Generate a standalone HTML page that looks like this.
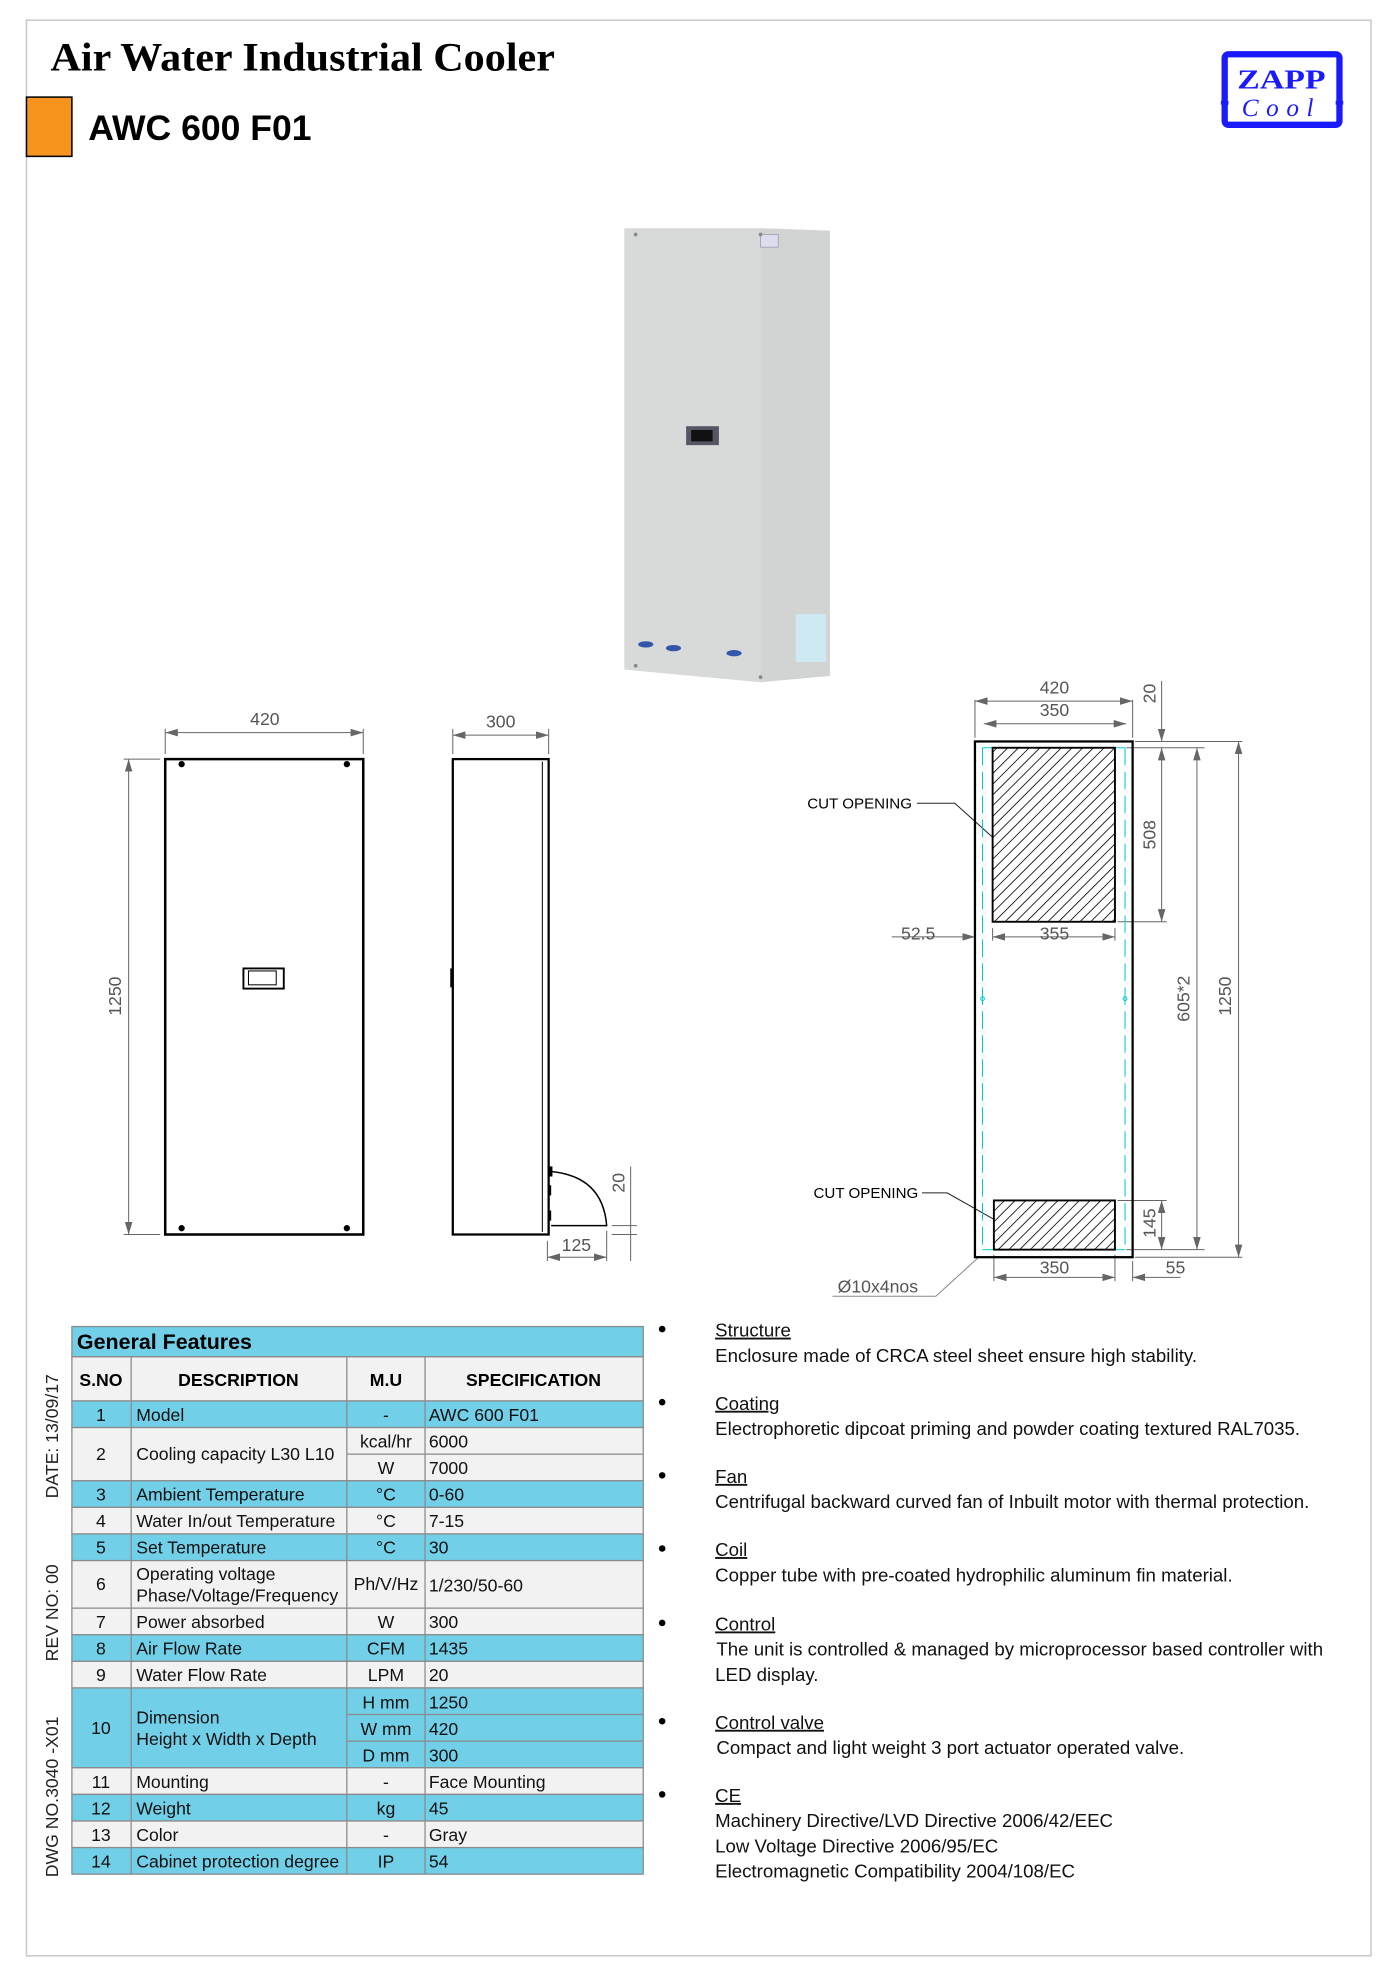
<!DOCTYPE html>
<html><head><meta charset="utf-8"><style>html,body{margin:0;padding:0;background:#fff}svg{display:block}</style></head>
<body>
<svg width="1400" height="1981" viewBox="0 0 1110 1571" preserveAspectRatio="none" xmlns="http://www.w3.org/2000/svg" font-family="Liberation Sans, Arial, sans-serif">
<defs>
<marker id="a" viewBox="0 0 10 6" refX="10" refY="3" markerWidth="10" markerHeight="6" orient="auto-start-reverse" markerUnits="userSpaceOnUse"><path d="M0,0 L10,3 L0,6 z" fill="#666"/></marker>
<pattern id="h" width="6" height="6" patternUnits="userSpaceOnUse" patternTransform="rotate(45)"><line x1="0" y1="0" x2="0" y2="6" stroke="#000" stroke-width="1.3"/></pattern>
</defs>
<rect x="21" y="16" width="1066" height="1535" fill="none" stroke="#c8c8c8" stroke-width="1.2"/>
<text x="40" y="56" font-family="Liberation Serif, serif" font-weight="bold" font-size="32" textLength="400" lengthAdjust="spacingAndGlyphs">Air Water Industrial Cooler</text>
<rect x="21" y="77" width="36" height="47" fill="#f7941d" stroke="#000" stroke-width="1.2"/>
<text x="70" y="111" font-weight="bold" font-size="28" textLength="177" lengthAdjust="spacingAndGlyphs">AWC 600 F01</text>
<!-- logo -->
<rect x="971" y="43" width="91" height="56" rx="3" fill="#fff" stroke="#1a1aff" stroke-width="5"/>
<rect x="968" y="80" width="6" height="3" fill="#1a1aff"/><rect x="1059" y="80" width="6" height="3" fill="#1a1aff"/>
<text x="1016" y="70" text-anchor="middle" font-family="Liberation Serif, serif" font-weight="bold" font-size="22" fill="#1a1aff" textLength="70" lengthAdjust="spacingAndGlyphs">ZAPP</text>
<text x="1016" y="92" text-anchor="middle" font-family="Liberation Serif, serif" font-style="italic" font-size="20" fill="#1a1aff" letter-spacing="6">Cool</text>
<!-- photo -->
<polygon points="495,181 603,181 658,183 658,536 603,541 495,531" fill="#d8dada"/>
<polygon points="603,181 658,183 658,536 603,541" fill="#d2d4d4"/>
<rect x="603" y="186" width="14" height="10" fill="#dde" stroke="#99a" stroke-width="0.6"/>
<rect x="544" y="338" width="26" height="15" fill="#556" /><rect x="548" y="341" width="17" height="9" fill="#111"/>
<rect x="631" y="487" width="24" height="38" fill="#cfe9f3"/>
<ellipse cx="512" cy="511" rx="6" ry="2.5" fill="#3355aa"/><ellipse cx="534" cy="514" rx="6" ry="2.5" fill="#3355aa"/><ellipse cx="582" cy="518" rx="6" ry="2.5" fill="#3355aa"/>
<g fill="#888"><circle cx="504" cy="186" r="1.5"/><circle cx="603" cy="186" r="1.5"/><circle cx="504" cy="528" r="1.5"/><circle cx="603" cy="537" r="1.5"/></g>
<!-- front view -->
<g stroke="#666" stroke-width="0.8" fill="none">
<line x1="131" y1="578" x2="131" y2="598"/><line x1="288" y1="578" x2="288" y2="598"/>
<line x1="131" y1="581" x2="288" y2="581" marker-start="url(#a)" marker-end="url(#a)"/>
<line x1="98" y1="602" x2="127" y2="602"/><line x1="98" y1="979" x2="127" y2="979"/>
<line x1="102" y1="602" x2="102" y2="979" marker-start="url(#a)" marker-end="url(#a)"/>
<line x1="359" y1="578" x2="359" y2="598"/><line x1="435" y1="578" x2="435" y2="598"/>
<line x1="359" y1="583" x2="435" y2="583" marker-start="url(#a)" marker-end="url(#a)"/>
<line x1="434" y1="984" x2="434" y2="1000"/><line x1="481" y1="976" x2="481" y2="1000"/>
<line x1="434" y1="997" x2="481" y2="997" marker-start="url(#a)" marker-end="url(#a)"/>
<line x1="500" y1="925" x2="500" y2="1000"/><line x1="485" y1="972" x2="505" y2="972"/><line x1="485" y1="979" x2="505" y2="979"/>
</g>
<g fill="#555" font-size="14"><text x="210" y="575" text-anchor="middle">420</text><text x="397" y="577" text-anchor="middle">300</text><text x="457" y="992" text-anchor="middle">125</text>
<text transform="translate(96,790) rotate(-90)" text-anchor="middle">1250</text><text transform="translate(495,938) rotate(-90)" text-anchor="middle">20</text></g>
<rect x="131" y="602" width="157" height="377" fill="none" stroke="#000" stroke-width="2"/>
<g fill="#000"><circle cx="144" cy="606" r="2.5"/><circle cx="275" cy="606" r="2.5"/><circle cx="144" cy="974" r="2.5"/><circle cx="275" cy="974" r="2.5"/></g>
<rect x="193" y="768" width="32" height="16" fill="none" stroke="#000" stroke-width="1.5"/><rect x="197" y="770" width="22" height="11" fill="none" stroke="#000" stroke-width="0.8"/>
<rect x="359" y="602" width="76" height="377" fill="none" stroke="#000" stroke-width="1.8"/>
<line x1="430" y1="604" x2="430" y2="977" stroke="#000" stroke-width="0.8"/>
<rect x="357" y="768" width="2" height="15" fill="#000"/>
<path d="M437,929 Q478,933 481,972 L437,972" fill="none" stroke="#000" stroke-width="1.2"/>
<rect x="435" y="925" width="3" height="8" fill="#000"/><rect x="435" y="940" width="2" height="8" fill="#000"/><rect x="435" y="960" width="2" height="8" fill="#000"/>
<!-- right view -->
<g stroke="#666" stroke-width="0.8" fill="none">
<line x1="773" y1="555" x2="773" y2="585"/><line x1="898" y1="555" x2="898" y2="585"/>
<line x1="773" y1="556" x2="898" y2="556" marker-start="url(#a)" marker-end="url(#a)"/>
<line x1="780" y1="574" x2="893" y2="574" marker-start="url(#a)" marker-end="url(#a)"/>
<line x1="921" y1="540" x2="921" y2="588" marker-end="url(#a)"/>
<line x1="921" y1="593" x2="921" y2="731" marker-start="url(#a)" marker-end="url(#a)"/>
<line x1="900" y1="588" x2="985" y2="588"/><line x1="893" y1="593" x2="955" y2="593"/><line x1="886" y1="731" x2="925" y2="731"/>
<line x1="949" y1="593" x2="949" y2="991" marker-start="url(#a)" marker-end="url(#a)"/>
<line x1="982" y1="588" x2="982" y2="997" marker-start="url(#a)" marker-end="url(#a)"/>
<line x1="886" y1="952" x2="925" y2="952"/><line x1="893" y1="991" x2="955" y2="991"/><line x1="900" y1="997" x2="985" y2="997"/>
<line x1="921" y1="952" x2="921" y2="991" marker-start="url(#a)" marker-end="url(#a)"/>
<line x1="787" y1="736" x2="787" y2="746"/><line x1="884" y1="736" x2="884" y2="746"/>
<line x1="787" y1="743" x2="884" y2="743" marker-start="url(#a)" marker-end="url(#a)"/>
<line x1="707" y1="743" x2="773" y2="743" marker-end="url(#a)"/>
<line x1="788" y1="995" x2="788" y2="1016"/><line x1="884" y1="995" x2="884" y2="1016"/><line x1="898" y1="1000" x2="898" y2="1016"/>
<line x1="788" y1="1013" x2="884" y2="1013" marker-start="url(#a)" marker-end="url(#a)"/>
<line x1="898" y1="1013" x2="936" y2="1013" marker-start="url(#a)"/>
<polyline points="660,1028 742,1028 776,997" stroke="#888"/>
</g>
<polyline points="727,637 757,637 787,664" fill="none" stroke="#222" stroke-width="0.8"/>
<polyline points="731,946 751,946 788,967" fill="none" stroke="#222" stroke-width="0.8"/>
<rect x="773" y="588" width="125" height="409" fill="none" stroke="#000" stroke-width="1.8"/>
<g stroke="#00c8d8" stroke-width="0.8" fill="none"><line x1="779" y1="593" x2="779" y2="991" stroke-dasharray="14,5"/><line x1="892" y1="593" x2="892" y2="991" stroke-dasharray="14,5"/><line x1="779" y1="593" x2="892" y2="593"/><line x1="779" y1="991" x2="892" y2="991"/><circle cx="779" cy="792" r="1.5"/><circle cx="892" cy="792" r="1.5"/></g>
<rect x="787" y="593" width="97" height="138" fill="url(#h)" stroke="#000" stroke-width="1.5"/>
<rect x="788" y="952" width="96" height="39" fill="url(#h)" stroke="#000" stroke-width="1.5"/>
<g fill="#555" font-size="14">
<text x="836" y="550" text-anchor="middle">420</text><text x="836" y="568" text-anchor="middle">350</text>
<text x="836" y="745" text-anchor="middle">355</text><text x="728" y="745" text-anchor="middle">52.5</text>
<text x="836" y="1010" text-anchor="middle">350</text><text x="932" y="1010" text-anchor="middle">55</text>
<text x="696" y="1025" text-anchor="middle">Ø10x4nos</text>
<text transform="translate(916,550) rotate(-90)" text-anchor="middle">20</text>
<text transform="translate(916,662) rotate(-90)" text-anchor="middle">508</text>
<text transform="translate(943,792) rotate(-90)" text-anchor="middle">605*2</text>
<text transform="translate(976,790) rotate(-90)" text-anchor="middle">1250</text>
<text transform="translate(916,970) rotate(-90)" text-anchor="middle">145</text>
</g>
<text x="640" y="641" font-size="12">CUT OPENING</text>
<text x="645" y="950" font-size="12">CUT OPENING</text>
<!-- side vertical labels -->
<g font-size="14" fill="#222" text-anchor="middle">
<text transform="translate(46,1139) rotate(-90)">DATE: 13/09/17</text>
<text transform="translate(46,1279) rotate(-90)">REV NO: 00</text>
<text transform="translate(46,1425) rotate(-90)">DWG NO.3040 -X01</text>
</g>
<!-- table -->
<g stroke="#8a8a8a" stroke-width="1">
<rect x="57" y="1052" width="453" height="24" fill="#72cfe8"/>
<rect x="57" y="1076" width="453" height="35" fill="#f2f2f2"/>
<rect x="57" y="1111" width="453" height="21.1" fill="#72cfe8"/>
<rect x="57" y="1132.1" width="453" height="42.2" fill="#f2f2f2"/>
<rect x="57" y="1174.3" width="453" height="21.1" fill="#72cfe8"/>
<rect x="57" y="1195.4" width="453" height="21.1" fill="#f2f2f2"/>
<rect x="57" y="1216.5" width="453" height="21.1" fill="#72cfe8"/>
<rect x="57" y="1237.6" width="453" height="37.7" fill="#f2f2f2"/>
<rect x="57" y="1275.3" width="453" height="21.1" fill="#f2f2f2"/>
<rect x="57" y="1296.4" width="453" height="21.1" fill="#72cfe8"/>
<rect x="57" y="1317.5" width="453" height="21.1" fill="#f2f2f2"/>
<rect x="57" y="1338.6" width="453" height="63.3" fill="#72cfe8"/>
<rect x="57" y="1401.9" width="453" height="21.1" fill="#f2f2f2"/>
<rect x="57" y="1423" width="453" height="21.1" fill="#72cfe8"/>
<rect x="57" y="1444.1" width="453" height="21.1" fill="#f2f2f2"/>
<rect x="57" y="1465.2" width="453" height="21.1" fill="#72cfe8"/>
<line x1="104" y1="1076" x2="104" y2="1486.3"/><line x1="275" y1="1076" x2="275" y2="1486.3"/><line x1="337" y1="1076" x2="337" y2="1486.3"/>
<line x1="275" y1="1153.2" x2="510" y2="1153.2"/><line x1="275" y1="1359.7" x2="510" y2="1359.7"/><line x1="275" y1="1380.8" x2="510" y2="1380.8"/>
</g>
<text x="61" y="1070" font-weight="bold" font-size="17">General Features</text>
<g font-weight="bold" font-size="14" text-anchor="middle"><text x="80" y="1099">S.NO</text><text x="189" y="1099">DESCRIPTION</text><text x="306" y="1099">M.U</text><text x="423" y="1099">SPECIFICATION</text></g>
<g font-size="14" fill="#111">
<g text-anchor="middle">
<text x="80" y="1127">1</text><text x="80" y="1158">2</text><text x="80" y="1190">3</text><text x="80" y="1211">4</text><text x="80" y="1232">5</text><text x="80" y="1261">6</text><text x="80" y="1291">7</text><text x="80" y="1312">8</text><text x="80" y="1333">9</text><text x="80" y="1375">10</text><text x="80" y="1418">11</text><text x="80" y="1439">12</text><text x="80" y="1460">13</text><text x="80" y="1481">14</text>
<text x="306" y="1127">-</text><text x="306" y="1148">kcal/hr</text><text x="306" y="1169">W</text><text x="306" y="1190">°C</text><text x="306" y="1211">°C</text><text x="306" y="1232">°C</text><text x="306" y="1261">Ph/V/Hz</text><text x="306" y="1291">W</text><text x="306" y="1312">CFM</text><text x="306" y="1333">LPM</text><text x="306" y="1355">H mm</text><text x="306" y="1376">W mm</text><text x="306" y="1397">D mm</text><text x="306" y="1418">-</text><text x="306" y="1439">kg</text><text x="306" y="1460">-</text><text x="306" y="1481">IP</text>
</g>
<text x="108" y="1127">Model</text><text x="108" y="1158">Cooling capacity L30 L10</text><text x="108" y="1190">Ambient Temperature</text><text x="108" y="1211">Water In/out Temperature</text><text x="108" y="1232">Set Temperature</text><text x="108" y="1253">Operating voltage</text><text x="108" y="1270">Phase/Voltage/Frequency</text><text x="108" y="1291">Power absorbed</text><text x="108" y="1312">Air Flow Rate</text><text x="108" y="1333">Water Flow Rate</text><text x="108" y="1367">Dimension</text><text x="108" y="1384">Height  x Width x Depth</text><text x="108" y="1418">Mounting</text><text x="108" y="1439">Weight</text><text x="108" y="1460">Color</text><text x="108" y="1481">Cabinet protection degree</text>
<text x="340" y="1127">AWC 600 F01</text><text x="340" y="1148">6000</text><text x="340" y="1169">7000</text><text x="340" y="1190">0-60</text><text x="340" y="1211">7-15</text><text x="340" y="1232">30</text><text x="340" y="1262">1/230/50-60</text><text x="340" y="1291">300</text><text x="340" y="1312">1435</text><text x="340" y="1333">20</text><text x="340" y="1355">1250</text><text x="340" y="1376">420</text><text x="340" y="1397">300</text><text x="340" y="1418">Face Mounting</text><text x="340" y="1439">45</text><text x="340" y="1460">Gray</text><text x="340" y="1481">54</text>
</g>
<!-- features -->
<g font-size="14.8" fill="#111">
<g fill="#000"><circle cx="525" cy="1054" r="2.6"/><circle cx="525" cy="1112" r="2.6"/><circle cx="525" cy="1170" r="2.6"/><circle cx="525" cy="1228" r="2.6"/><circle cx="525" cy="1287" r="2.6"/><circle cx="525" cy="1365" r="2.6"/><circle cx="525" cy="1423" r="2.6"/></g>
<text x="567" y="1060" text-decoration="underline">Structure</text><text x="567" y="1080">Enclosure made of CRCA steel sheet ensure high stability.</text>
<text x="567" y="1118" text-decoration="underline">Coating</text><text x="567" y="1138">Electrophoretic  dipcoat priming and powder coating textured RAL7035.</text>
<text x="567" y="1176" text-decoration="underline">Fan</text><text x="567" y="1196">Centrifugal backward curved fan of Inbuilt motor with thermal protection.</text>
<text x="567" y="1234" text-decoration="underline">Coil</text><text x="567" y="1254">Copper tube with pre-coated hydrophilic aluminum fin material.</text>
<text x="567" y="1293" text-decoration="underline">Control</text><text x="568" y="1313">The unit is controlled &amp; managed by microprocessor based controller with</text><text x="567" y="1333">LED display.</text>
<text x="567" y="1371" text-decoration="underline">Control valve</text><text x="568" y="1391">Compact  and light weight  3 port  actuator operated valve.</text>
<text x="567" y="1429" text-decoration="underline">CE</text><text x="567" y="1449">Machinery Directive/LVD Directive 2006/42/EEC</text><text x="567" y="1469">Low Voltage Directive 2006/95/EC</text><text x="567" y="1489">Electromagnetic Compatibility 2004/108/EC</text>
</g>
</svg>
</body></html>
